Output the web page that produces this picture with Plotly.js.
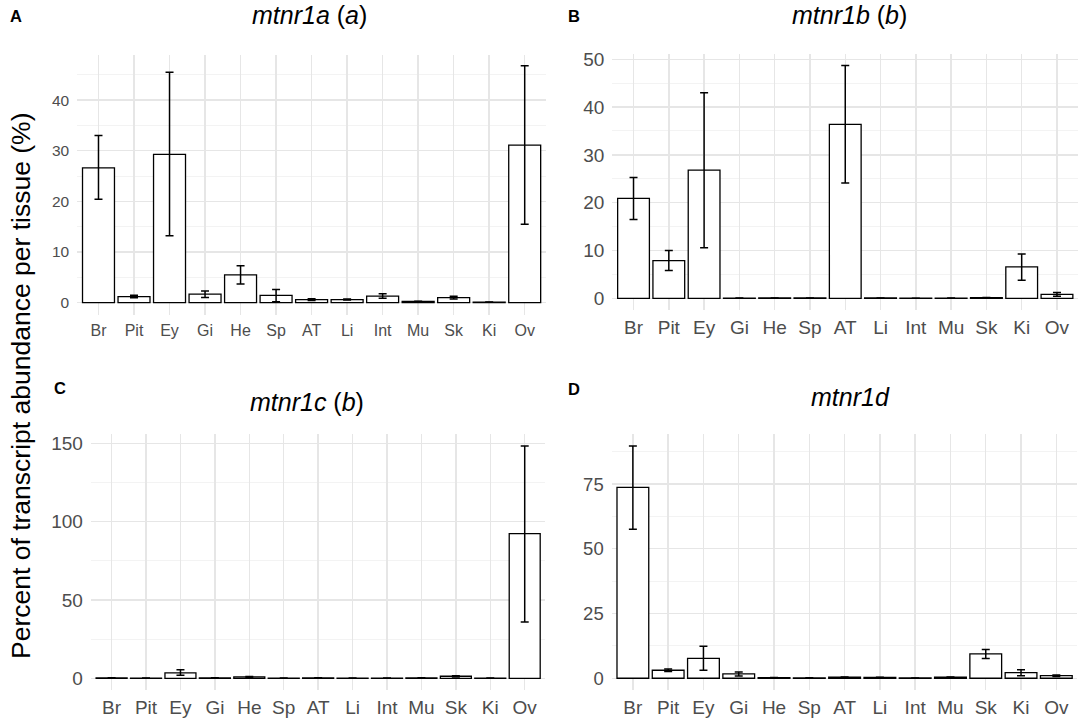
<!DOCTYPE html>
<html>
<head>
<meta charset="utf-8">
<script src="https://cdn.plot.ly/plotly-3.0.1.min.js"></script>
<style>
  html, body { margin: 0; padding: 0; background: #fff; }
  #chart { width: 1084px; height: 723px; }
</style>
</head>
<body>
<div id="chart"></div>
<script>
// tissues on the x axis
var tissues = ['Br', 'Pit', 'Ey', 'Gi', 'He', 'Sp', 'AT', 'Li', 'Int', 'Mu', 'Sk', 'Ki', 'Ov'];

// mtnr1a (a)
var mtnr1aMean = [26.6, 1.2, 29.3, 1.7, 5.5, 1.45, 0.6, 0.6, 1.3, 0.25, 1.0, 0.12, 31.1];
var mtnr1aHigh = [33.0, 1.45, 45.5, 2.3, 7.3, 2.6, 0.75, 0.7, 1.75, 0.3, 1.25, 0.15, 46.8];
var mtnr1aLow  = [20.4, 0.95, 13.2, 1.0, 3.7, 0.2, 0.45, 0.5, 0.85, 0.2, 0.7, 0.1, 15.5];

// mtnr1b (b)
var mtnr1bMean = [20.9, 7.9, 26.8, 0.05, 0.08, 0.08, 36.4, 0.08, 0.03, 0.06, 0.15, 6.6, 0.85];
var mtnr1bHigh = [25.3, 10.0, 43.0, 0.06, 0.1, 0.1, 48.7, 0.1, 0.04, 0.08, 0.2, 9.3, 1.25];
var mtnr1bLow  = [16.5, 5.8, 10.6, 0.04, 0.06, 0.06, 24.1, 0.06, 0.02, 0.04, 0.1, 3.8, 0.45];

// mtnr1c (b)
var mtnr1cMean = [0.2, 0.1, 3.4, 0.2, 0.85, 0.1, 0.3, 0.1, 0.1, 0.2, 1.3, 0.1, 92.3];
var mtnr1cHigh = [0.3, 0.15, 5.5, 0.3, 1.15, 0.15, 0.4, 0.15, 0.15, 0.3, 1.7, 0.15, 148.3];
var mtnr1cLow  = [0.1, 0.05, 1.9, 0.1, 0.55, 0.05, 0.2, 0.05, 0.05, 0.1, 0.9, 0.05, 36.0];

// mtnr1d
var mtnr1dMean = [73.7, 3.1, 7.7, 1.7, 0.2, 0.15, 0.4, 0.3, 0.1, 0.4, 9.4, 2.2, 1.0];
var mtnr1dHigh = [89.7, 3.6, 12.4, 2.4, 0.25, 0.2, 0.5, 0.35, 0.12, 0.5, 11.1, 3.3, 1.3];
var mtnr1dLow  = [57.5, 2.6, 3.1, 0.9, 0.15, 0.1, 0.3, 0.25, 0.08, 0.3, 7.6, 1.0, 0.7];

var panels = [
  { mean: mtnr1aMean, high: mtnr1aHigh, low: mtnr1aLow, title: '<i>mtnr1a</i> (<i>a</i>)', tag: 'A',
    xd: [0.0712, 0.5037], yd: [0.5650, 0.9239], yr: [-2.34, 48.9], dt: 10, mdt: 5, yfs: 15.5, xfs: 16,
    tx: 309, ty: 15, lx: 16, ly: 16 },
  { mean: mtnr1bMean, high: mtnr1bHigh, low: mtnr1bLow, title: '<i>mtnr1b</i> (<i>b</i>)', tag: 'B',
    xd: [0.5649, 0.9946], yd: [0.5712, 0.9253], yr: [-2.44, 51.1], dt: 10, mdt: 5, yfs: 19, xfs: 19,
    tx: 849, ty: 15, lx: 574, ly: 16 },
  { mean: mtnr1cMean, high: mtnr1cHigh, low: mtnr1cLow, title: '<i>mtnr1c</i> (<i>b</i>)', tag: 'C',
    xd: [0.0839, 0.5031], yd: [0.0458, 0.4001], yr: [-7.4, 156.1], dt: 50, mdt: 25, yfs: 19, xfs: 19,
    tx: 307, ty: 402, lx: 60, ly: 388 },
  { mean: mtnr1dMean, high: mtnr1dHigh, low: mtnr1dLow, title: '<i>mtnr1d</i>', tag: 'D',
    xd: [0.5643, 0.9940], yd: [0.0458, 0.3993], yr: [-4.49, 94.2], dt: 25, mdt: 12.5, yfs: 18.5, xfs: 19,
    tx: 850, ty: 397, lx: 574, ly: 389 }
];

var W = 1084, H = 723;
var data = [];
var layout = {
  width: W, height: H,
  margin: { l: 0, r: 0, t: 0, b: 0 },
  paper_bgcolor: '#fff', plot_bgcolor: '#fff',
  showlegend: false,
  bargap: 0.1,
  font: { family: 'Liberation Sans, Arial, sans-serif', color: '#000' },
  annotations: []
};

panels.forEach(function (p, i) {
  var n = i === 0 ? '' : String(i + 1);
  data.push({
    type: 'bar',
    x: tissues,
    y: p.mean,
    xaxis: 'x' + n, yaxis: 'y' + n,
    marker: { color: '#ffffff', line: { color: '#000', width: 1.3 } },
    error_y: {
      type: 'data', symmetric: false,
      array: p.high.map(function (v, k) { return v - p.mean[k]; }),
      arrayminus: p.mean.map(function (v, k) { return v - p.low[k]; }),
      color: '#000', thickness: 1.5, width: 4
    },
    hoverinfo: 'x+y'
  });
  layout['xaxis' + n] = {
    domain: p.xd, anchor: 'y' + n, type: 'category',
    range: [-0.6, 12.6],
    showgrid: true, gridcolor: '#e6e6e6', gridwidth: 1.4,
    showline: false, zeroline: false, ticks: '',
    ticklabelstandoff: 4,
    tickfont: { size: p.xfs, color: '#4d4d4d' }
  };
  layout['yaxis' + n] = {
    domain: p.yd, anchor: 'x' + n,
    range: p.yr, dtick: p.dt, tick0: 0,
    showgrid: true, gridcolor: '#e6e6e6', gridwidth: 1.4,
    minor: { dtick: p.mdt, tick0: 0, showgrid: true, gridcolor: '#f0f0f0', gridwidth: 0.8 },
    showline: false, zeroline: false, ticks: '',
    ticklabelstandoff: 7,
    tickfont: { size: p.yfs, color: '#4d4d4d' }
  };
  layout.annotations.push({
    text: p.title, xref: 'paper', yref: 'paper',
    x: p.tx / W, y: 1 - p.ty / H, xanchor: 'center', yanchor: 'middle',
    showarrow: false, font: { size: 25, color: '#000' }
  });
  layout.annotations.push({
    text: '<b>' + p.tag + '</b>', xref: 'paper', yref: 'paper',
    x: p.lx / W, y: 1 - p.ly / H, xanchor: 'center', yanchor: 'middle',
    showarrow: false, font: { size: 16.5, color: '#000' }
  });
});

layout.annotations.push({
  text: 'Percent of transcript abundance per tissue (%)',
  xref: 'paper', yref: 'paper', x: 21 / W, y: 1 - 386 / H,
  xanchor: 'center', yanchor: 'middle', textangle: -90,
  showarrow: false, font: { size: 26.5, color: '#000' }
});

Plotly.newPlot('chart', data, layout, { displayModeBar: false, staticPlot: true });
</script>
</body>
</html>
